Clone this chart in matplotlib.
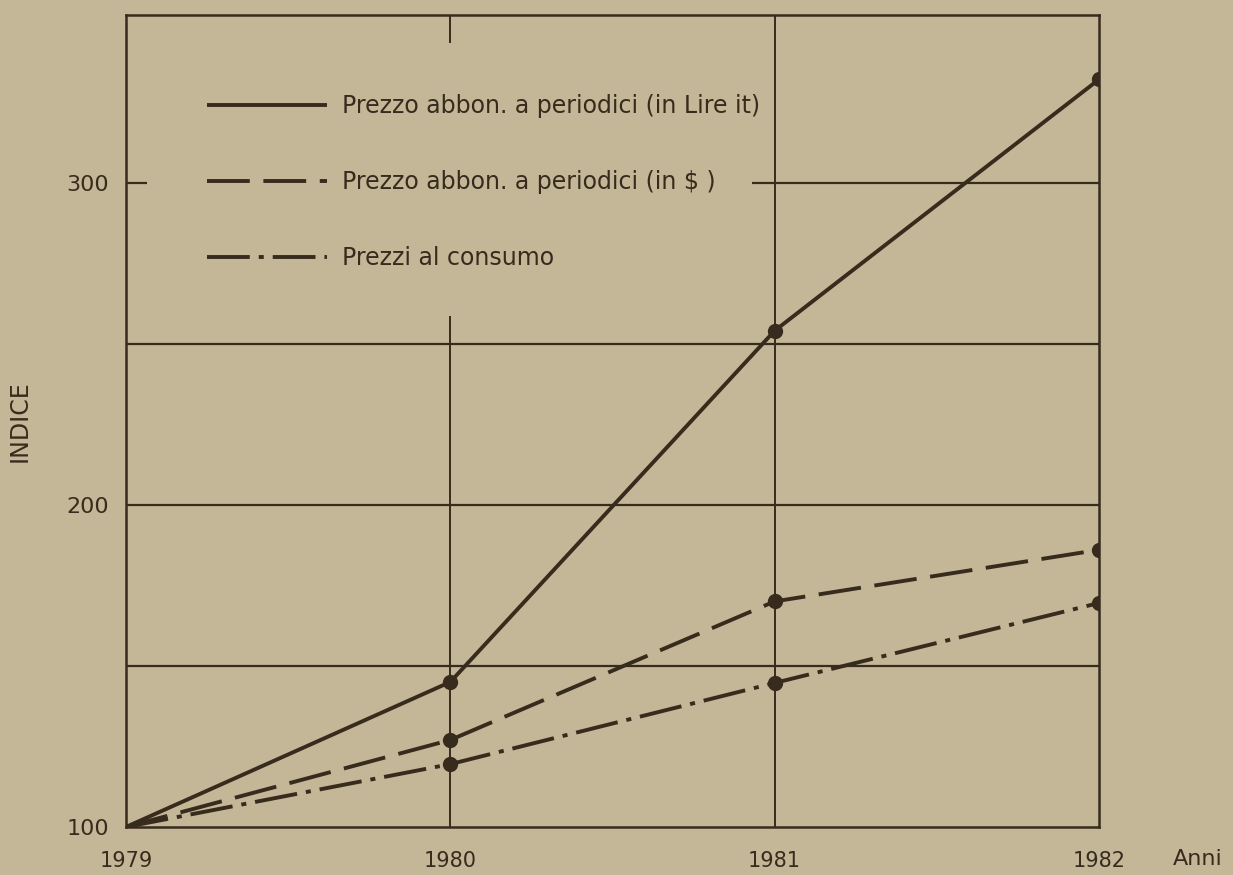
"""
Indice prezzi abbonamenti a periodici vs prezzi al consumo, 1979-1982.
"""

import matplotlib
matplotlib.use("Agg")
import matplotlib.pyplot as plt
from matplotlib.patches import Rectangle

# data (index, 1979 = 100)
anni = [1979, 1980, 1981, 1982]
lire = [100, 145, 254, 332]
dollari = [100, 127, 170, 186]
consumo = [100, 119.5, 144.7, 169.5]

etichette = [
    "Prezzo abbon. a periodici (in Lire it)",
    "Prezzo abbon. a periodici (in $ )",
    "Prezzi al consumo",
]
y_ticks = [100, 200, 300]
griglia_y = [150, 200, 250, 300]
griglia_x = [1980, 1981]

BG = "#c3b797"
INK = "#372b1d"

plt.rcParams["font.family"] = "DejaVu Sans"

fig = plt.figure(figsize=(12.33, 8.75), dpi=100, facecolor=BG)
ax = fig.add_axes([0.1022, 0.0549, 0.7891, 0.928])
ax.set_facecolor(BG)

ax.set_xlim(1979, 1982)
ax.set_ylim(100, 352)

# grid
for g in griglia_y:
    ax.axhline(g, color=INK, lw=1.6, zorder=1)
for g in griglia_x:
    ax.axvline(g, color=INK, lw=1.4, zorder=1)

# blank area under the legend, as in the original
ax.add_patch(Rectangle((0.0216, 0.629), 0.6218, 0.3365, transform=ax.transAxes,
                       facecolor=BG, edgecolor="none", zorder=2))

lw = 2.8
ax.plot(anni, lire, color=INK, lw=lw, solid_capstyle="butt", zorder=3, label=etichette[0])
ax.plot(anni, dollari, color=INK, lw=lw, dashes=(11, 3.5), zorder=3, label=etichette[1])
ax.plot(anni, consumo, color=INK, lw=lw, dashes=(11, 2.3, 1.3, 2.3), zorder=3, label=etichette[2])

for serie in (lire, dollari, consumo):
    ax.plot(anni[1:], serie[1:], "o", color=INK, ms=10, zorder=4)

for s in ax.spines.values():
    s.set_color(INK)
    s.set_linewidth(1.8)

ax.set_yticks(y_ticks)
ax.set_yticklabels([str(v) for v in y_ticks])
ax.set_xticks(anni)
ax.set_xticklabels([str(a) for a in anni])
ax.tick_params(axis="y", length=0, pad=12, labelsize=16, labelcolor=INK)
ax.tick_params(axis="x", length=0, pad=17, labelsize=15, labelcolor=INK)

ax.set_ylabel("INDICE", fontsize=17, color=INK)
ax.yaxis.set_label_coords(-0.097, 0.5)
ax.text(1.076, -0.04, "Anni", transform=ax.transAxes, fontsize=16, color=INK,
        ha="left", va="center")

leg = ax.legend(loc="center left", bbox_to_anchor=(0.0832, 0.794), frameon=False,
                borderpad=0, borderaxespad=0, handlelength=5.1, handletextpad=0.6,
                labelspacing=2.2, fontsize=17, labelcolor=INK)
leg.set_zorder(5)

fig.savefig("out.png", dpi=100, facecolor=BG)
